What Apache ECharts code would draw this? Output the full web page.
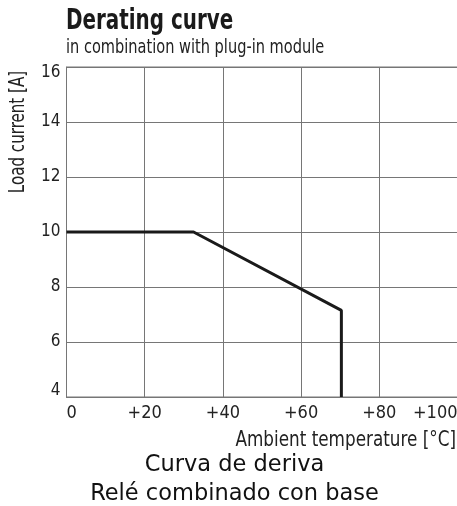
<!DOCTYPE html>
<html lang="en">
  <head>
    <meta charset="UTF-8" />
    <title>Derating curve</title>
    <style>
      * {
        margin: 0;
        padding: 0;
      }
      body {
        background: #fff;
      }
    </style>
  </head>
  <body>
    <div id="main" style="width: 457px; height: 506px"></div>

    <script src="https://cdn.jsdelivr.net/npm/echarts@6/dist/echarts.min.js"></script>
    <script>
      // 曲线数据 [温度 °C, 电流 A]
      var temps = [0, 32.5, 70.3, 70.3];
      var currents = [10, 10, 7.15, 4];

      // 坐标轴刻度文字
      var xTickLabels = ["0", "+20", "+40", "+60", "+80", "+100"];
      var yTickLabels = ["4", "6", "8", "10", "12", "14", "16"];

      // 没有窄体 Liberation，用 DejaVu Condensed 代替
      var narrow = "'DejaVu Sans Condensed', 'Liberation Sans Narrow', sans-serif";
      var gridColor = "#767676";

      var myChart = echarts.init(document.getElementById("main"));

      var option = {
        backgroundColor: "#ffffff",
        animation: false,
        grid: {
          left: 66.5,
          top: 67,
          width: 391,
          height: 330,
          outerBoundsMode: "none",
          show: true,
          borderColor: gridColor,
          borderWidth: 1,
        },
        xAxis: {
          type: "value",
          min: 0,
          max: 100,
          interval: 20,
          axisLine: { lineStyle: { color: gridColor, width: 1 } },
          axisTick: { show: false },
          splitLine: { lineStyle: { color: gridColor, width: 1 } },
          axisLabel: {
            margin: 7,
            color: "#222",
            fontFamily: narrow,
            fontSize: 18,
            alignMinLabel: "left",
            alignMaxLabel: "right",
            formatter: function (v) {
              return xTickLabels[Math.round(v / 20)];
            },
          },
        },
        yAxis: {
          type: "value",
          min: 4,
          max: 16,
          interval: 2,
          axisLine: { show: true, lineStyle: { color: gridColor, width: 1 } },
          axisTick: { show: false },
          splitLine: { lineStyle: { color: gridColor, width: 1 } },
          axisLabel: {
            margin: 6,
            color: "#222",
            fontFamily: narrow,
            fontSize: 17,
            lineHeight: 12,
            verticalAlignMinLabel: "bottom",
            verticalAlignMaxLabel: "top",
            formatter: function (v) {
              return yTickLabels[Math.round((v - 4) / 2)];
            },
          },
        },
        series: [
          {
            type: "line",
            data: temps.map(function (t, i) {
              return [t, currents[i]];
            }),
            symbol: "none",
            lineStyle: { color: "#1a1a1a", width: 3 },
          },
        ],
        graphic: [
          // 标题（横向压缩，模仿窄体字）
          {
            type: "text",
            x: 66,
            y: 22,
            scaleX: 0.79,
            style: {
              text: "Derating curve",
              fill: "#1a1a1a",
              font: "bold 28px " + narrow,
              verticalAlign: "middle",
            },
          },
          {
            type: "text",
            x: 66,
            y: 48,
            scaleX: 0.81,
            style: {
              text: "in combination with plug-in module",
              fill: "#222",
              font: "20px " + narrow,
              verticalAlign: "middle",
            },
          },
          // y 轴名称
          {
            type: "text",
            x: 19,
            y: 132,
            rotation: Math.PI / 2,
            scaleX: 0.8,
            style: {
              text: "Load current [A]",
              fill: "#222",
              font: "21px " + narrow,
              align: "center",
              verticalAlign: "middle",
            },
          },
          // x 轴名称
          {
            type: "text",
            x: 456,
            y: 440,
            scaleX: 0.85,
            style: {
              text: "Ambient temperature [°C]",
              fill: "#222",
              font: "22px " + narrow,
              align: "right",
              verticalAlign: "middle",
            },
          },
          // 下方说明
          {
            type: "text",
            x: 234.5,
            y: 465,
            style: {
              text: "Curva de deriva",
              fill: "#111",
              font: "22.5px 'DejaVu Sans', sans-serif",
              align: "center",
              verticalAlign: "middle",
            },
          },
          {
            type: "text",
            x: 234.5,
            y: 494,
            style: {
              text: "Relé combinado con base",
              fill: "#111",
              font: "22.5px 'DejaVu Sans', sans-serif",
              align: "center",
              verticalAlign: "middle",
            },
          },
        ],
      };

      myChart.setOption(option);
    </script>
  </body>
</html>
